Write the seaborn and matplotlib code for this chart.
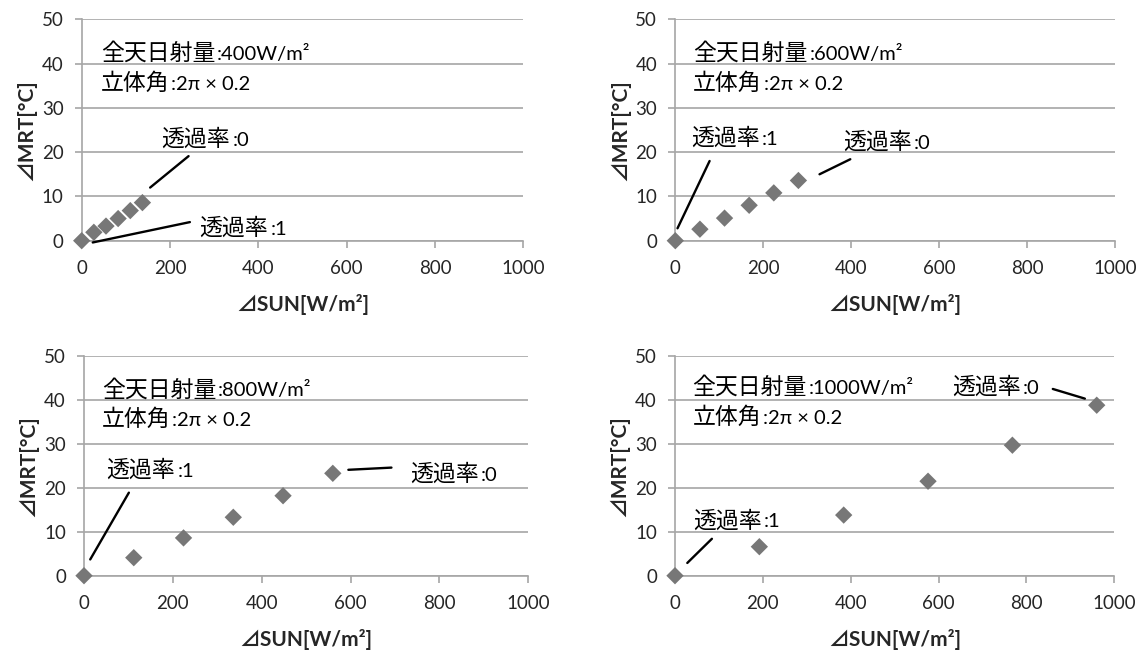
import numpy as np
import pandas as pd
import matplotlib
matplotlib.use("Agg")
import matplotlib.pyplot as plt
import seaborn as sns

# --- data (four panels, one per global radiation level) ---
radiation = [400, 600, 800, 1000]

sun_400 = [0, 27.5, 55, 82.5, 110, 137.5]
mrt_400 = [0, 1.9, 3.3, 5.0, 6.8, 8.6]

sun_600 = [0, 56, 112, 168, 224, 280]
mrt_600 = [0, 2.6, 5.1, 8.0, 10.8, 13.6]

sun_800 = [0, 112, 224, 336, 448, 560]
mrt_800 = [0, 4.1, 8.6, 13.3, 18.2, 23.3]

sun_1000 = [0, 192, 384, 576, 768, 960]
mrt_1000 = [0, 6.6, 13.8, 21.5, 29.7, 38.8]

x_ticks = [0, 200, 400, 600, 800, 1000]
y_ticks = [0, 10, 20, 30, 40, 50]

frames = []
for rad, xs, ys in zip(radiation, [sun_400, sun_600, sun_800, sun_1000],
                       [mrt_400, mrt_600, mrt_800, mrt_1000]):
    frames.append(pd.DataFrame({"radiation": rad, "sun": xs, "mrt": ys}))
df = pd.concat(frames, ignore_index=True)

# --- style ---
sns.set_style("white")
EN_FONT = ["Lato", "Noto Sans CJK JP", "DejaVu Sans"]
JP_FONT = ["Noto Sans CJK JP", "DejaVu Sans"]
plt.rcParams["font.family"] = EN_FONT

GRID = "#a6a6a6"
MARK = "#777777"

W, H = 1147, 658
fig = plt.figure(figsize=(W / 100, H / 100), dpi=100)
fig.patch.set_facecolor("white")

# axes boxes in pixels: left, right, top, bottom
boxes = {
    400: (81.7, 523.3, 19.3, 240.7),
    600: (675.3, 1115.0, 19.3, 240.7),
    800: (84.0, 528.3, 356.0, 575.7),
    1000: (675.0, 1114.3, 356.0, 575.7),
}

# annotation layout per panel: header x/y baselines, labels and leader lines
notes = {
    400: dict(hx=43, hy=(40.8, 34.0),
              labels=[(181, 21.4, "0"), (267, 1.4, "1")],
              lines=[((155, 242), (12.0, 19.1)), ((25, 245), (-0.4, 4.2))]),
    600: dict(hx=40, hy=(40.8, 34.0),
              labels=[(36, 21.6, "1"), (381, 20.8, "0")],
              lines=[((5, 78), (2.8, 18.0)), ((328, 398), (15.0, 18.4))]),
    800: dict(hx=40, hy=(40.8, 34.0),
              labels=[(51, 22.5, "1"), (733, 21.6, "0")],
              lines=[((14, 101), (3.7, 18.9)), ((595, 692), (24.1, 24.6))]),
    1000: dict(hx=40, hy=(41.4, 34.5),
               labels=[(630, 41.4, "0"), (41, 11.0, "1")],
               lines=[((860, 933), (42.5, 40.3)), ((28, 84), (2.9, 8.4))]),
}


def jp_text(ax, x, y, jp, rest):
    t = ax.text(x, y, jp, fontsize=16.5, family=JP_FONT, va="baseline",
                ha="left", color="black")
    ax.annotate(rest, xy=(1, y), xycoords=(t, "data"), xytext=(1.5, 0),
                textcoords="offset points", fontsize=14.5, family=EN_FONT,
                va="baseline", ha="left", color="black")


for rad in radiation:
    l, r, t, b = boxes[rad]
    ax = fig.add_axes([l / W, 1 - b / H, (r - l) / W, (b - t) / H])
    sub = df[df["radiation"] == rad]
    sns.scatterplot(data=sub, x="sun", y="mrt", marker="D", s=78, color=MARK,
                    edgecolor="none", ax=ax, clip_on=False, zorder=4)

    ax.set_xlim(0, 1000)
    ax.set_ylim(0, 50)
    ax.set_xticks(x_ticks)
    ax.set_yticks(y_ticks)
    ax.yaxis.grid(True, color=GRID, linewidth=1.2)
    ax.set_axisbelow(True)
    for side in ["top", "right"]:
        ax.spines[side].set_visible(False)
    for side in ["left", "bottom"]:
        ax.spines[side].set_color(GRID)
        ax.spines[side].set_linewidth(1.2)
    ax.tick_params(axis="x", direction="out", length=5, width=1.2, color=GRID,
                   pad=9, labelsize=13.5, bottom=True)
    ax.tick_params(axis="y", direction="out", length=5, width=1.2, color=GRID,
                   pad=8, labelsize=13.5, left=True)

    ax.set_xlabel("⊿SUN[W/m²]", fontsize=15, fontweight="bold", labelpad=12)
    ax.set_ylabel("⊿MRT[°C]", fontsize=15, fontweight="bold", labelpad=4)

    n = notes[rad]
    jp_text(ax, n["hx"], n["hy"][0], "全天日射量", f":{rad}W/m²")
    jp_text(ax, n["hx"], n["hy"][1], "立体角", ":2π × 0.2")
    for lx, ly, val in n["labels"]:
        jp_text(ax, lx, ly, "透過率", f":{val}")
    for xs, ys in n["lines"]:
        ax.plot(xs, ys, color="black", linewidth=1.7, clip_on=False, zorder=3)

fig.savefig("out.png", dpi=100, facecolor="white")
